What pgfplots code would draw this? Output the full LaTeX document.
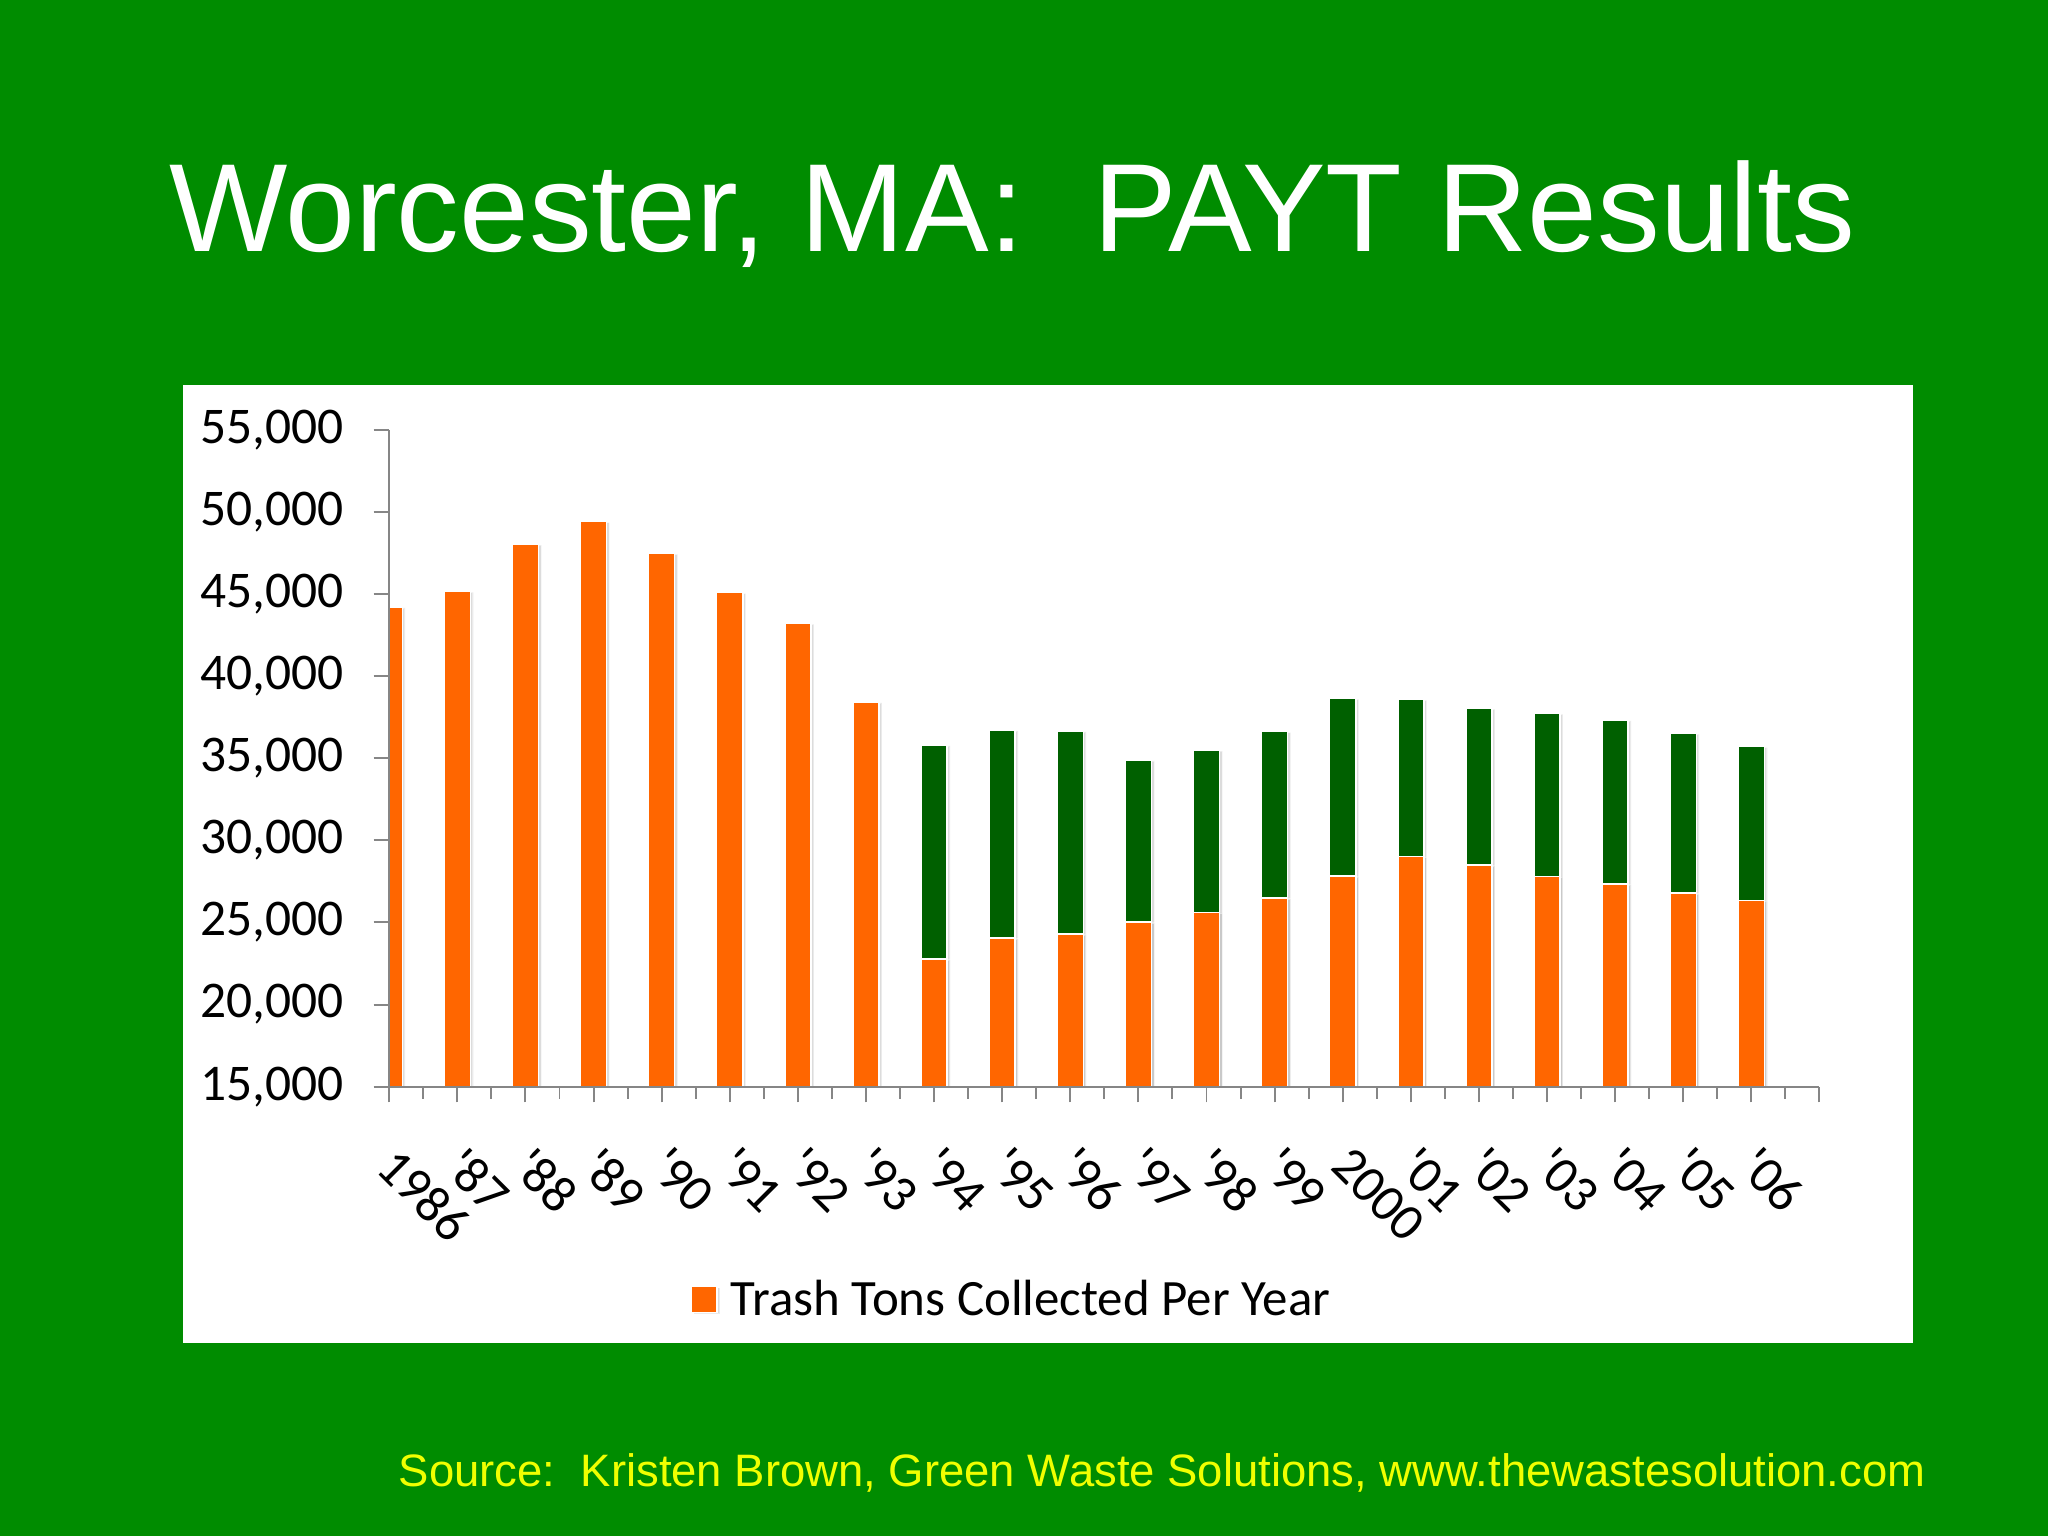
\documentclass[border=0pt]{standalone}
\usepackage{pgfplots}
\pgfplotsset{compat=1.18}
\usetikzlibrary{shadows}
\usepackage{fontspec}
\setmainfont{Liberation Sans}
\newfontfamily\calfont{Carlito}[Ligatures=TeXOff]

\definecolor{bggreen}{RGB}{0,140,0}
\definecolor{bardark}{RGB}{0,96,0}
\definecolor{barorange}{RGB}{255,102,0}
\definecolor{axisgray}{RGB}{134,134,134}
\definecolor{srcyellow}{RGB}{240,255,0}

\begin{document}
\frenchspacing
\begin{tikzpicture}[x=1pt,y=1pt]
% slide background and white chart area
\fill[bggreen] (0,0) rectangle (784,588);
\fill[white] (70,74) rectangle (732.5,440.5);

\node[anchor=base west, inner sep=0pt, text=white, font=\fontsize{48}{56}\selectfont]
  at (64.6,491.7) {Worcester, MA:\ \ PAYT Results};
\node[anchor=base west, inner sep=0pt, text=srcyellow, font=\fontsize{17.4}{20}\selectfont]
  at (152.5,19) {Source:\ \ Kristen Brown, Green Waste Solutions, www.thewastesolution.com};

\begin{axis}[
  at={(149pt,172pt)}, anchor=south west,
  width=547.5pt, height=251.5pt, scale only axis,
  xmin=0, xmax=21, ymin=15000, ymax=55000,
  axis x line=bottom, axis y line=left,
  axis line style={-, draw=axisgray, line width=0.75pt},
  axis on top,
  xtick={0,...,21},
  minor xtick={0.5,1.5,...,20.5},
  xticklabels={1986,'87,'88,'89,'90,'91,'92,'93,'94,'95,'96,'97,'98,'99,2000,'01,'02,'03,'04,'05,'06,{}},
  ytick={15000,20000,...,55000},
  scaled y ticks=false,
  tick align=outside,
  major tick length=6pt, minor tick length=4.6pt,
  tick style={draw=axisgray, line width=0.75pt},
  minor tick style={draw=axisgray, line width=0.75pt},
  yticklabel style={font=\calfont\fontsize{19.7}{22}\selectfont, xshift=-8pt,
    /pgf/number format/.cd, 1000 sep={,}, assume math mode=true},
  xticklabel style={font=\calfont\fontsize{20}{23}\selectfont, inner sep=0pt,
    yshift=-16pt, xshift=4pt, rotate=-45, anchor=north west},
  ybar, bar width=10pt, bar shift=0pt,
  barshade/.style={drop shadow={shadow xshift=1.1pt, shadow yshift=-0.4pt,
    fill=black!30, opacity=0.45}},
  legend style={at={(0.436,-0.324)}, anchor=center, draw=none, fill=none,
    font=\calfont\fontsize{19.5}{22}\selectfont},
  legend image code/.code={\fill[fill=barorange] (0pt,-5pt) rectangle (10pt,5pt); \path (13pt,0pt);},
]
% total tons (dark green part shows above the trash bar)
\addplot[fill=bardark, draw=white, line width=0.6pt, barshade, forget plot] coordinates {
  (8,35810) (9,36720) (10,36660) (11,34895) (12,35500) (13,36620) (14,38650)
  (15,38590) (16,38040) (17,37730) (18,37330) (19,36520) (20,35710)
};
% trash tons collected per year
\addplot[fill=barorange, draw=white, line width=0.6pt, barshade] coordinates {
  (0,44210) (1,45160) (2,48040) (3,49410) (4,47480) (5,45080) (6,43210)
  (7,38430) (8,22770) (9,24050) (10,24310) (11,25020) (12,25610) (13,26480)
  (14,27840) (15,29010) (16,28510) (17,27800) (18,27350) (19,26780) (20,26340)
};
\legend{Trash Tons Collected Per Year}
\end{axis}
\end{tikzpicture}
\end{document}
